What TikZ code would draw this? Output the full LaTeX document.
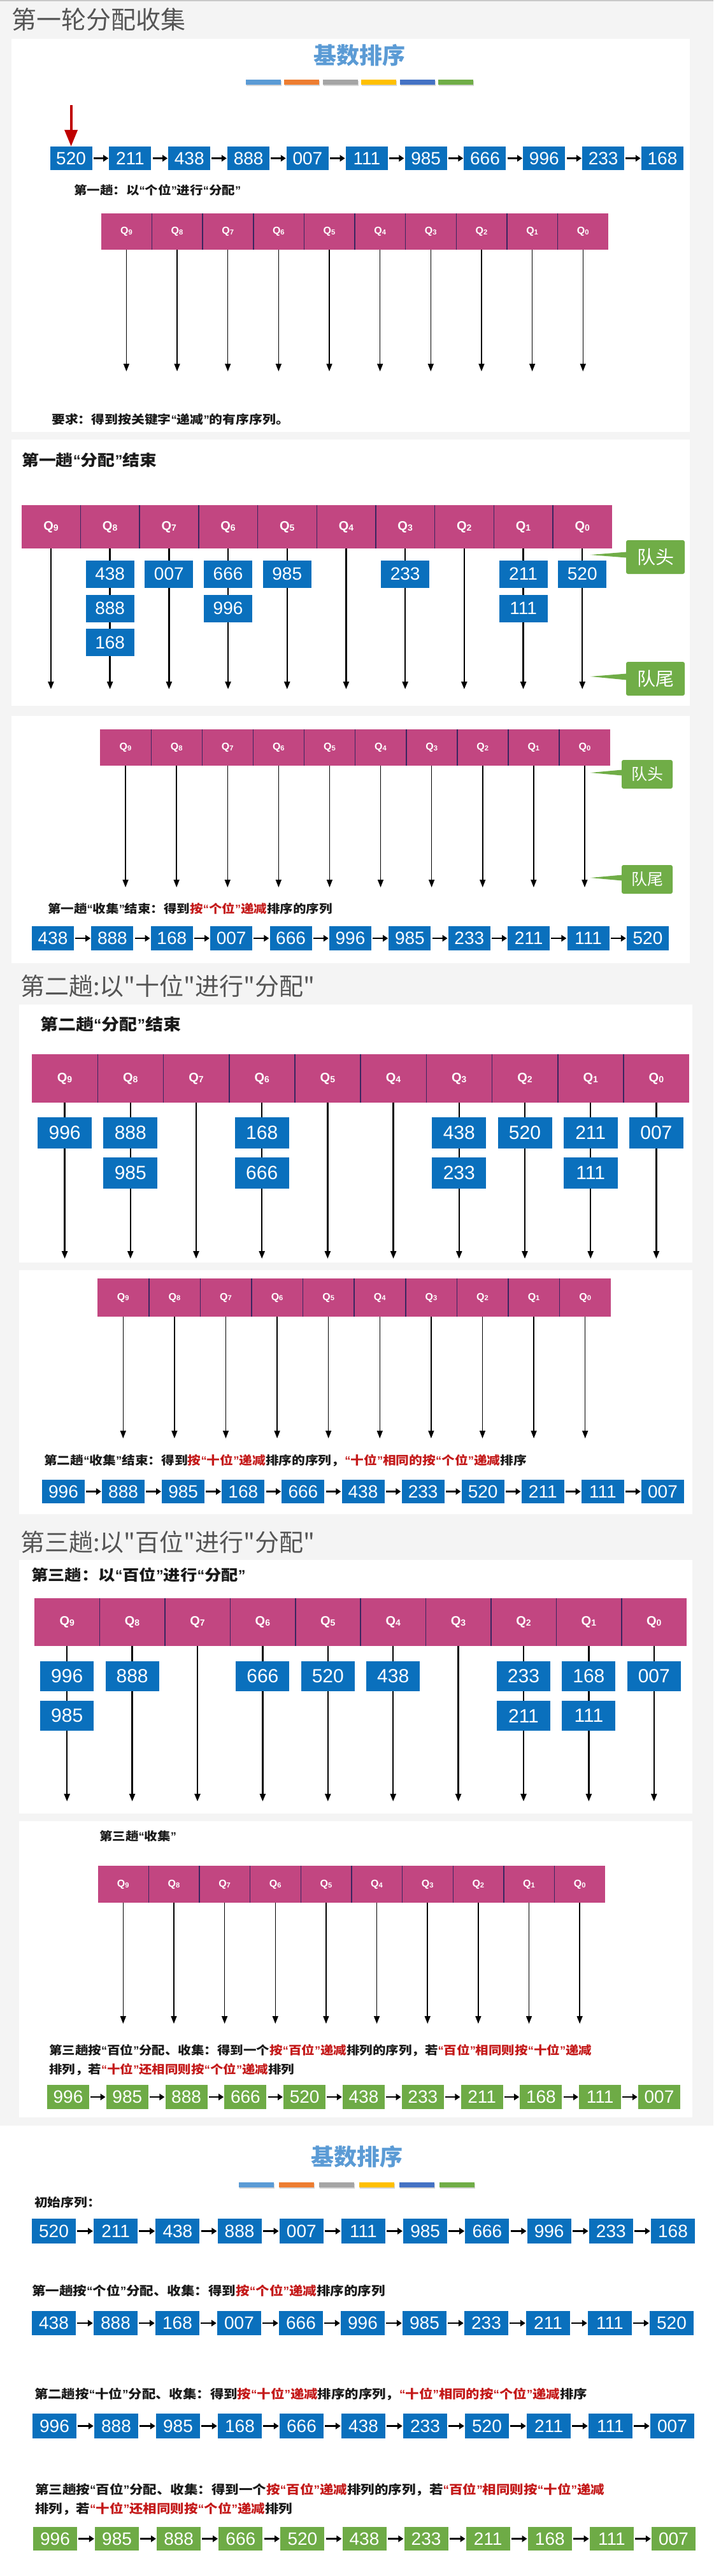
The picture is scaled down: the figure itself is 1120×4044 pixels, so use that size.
\documentclass[tikz,border=0pt]{standalone}
\usepackage{fontspec}
\usepackage{graphicx}
\usetikzlibrary{arrows.meta}
\newfontfamily\cjk{Noto Sans CJK SC}
\newfontfamily\cjkw[FakeStretch=1.12]{Noto Sans CJK SC}
\newfontfamily\numf{Liberation Sans}
\definecolor{bggray}{HTML}{F4F4F4}
\definecolor{topline}{HTML}{C8C8C8}
\definecolor{qpink}{HTML}{C24681}
\definecolor{divnavy}{HTML}{3A2560}
\definecolor{nblue}{HTML}{0A70BD}
\definecolor{ngreen}{HTML}{6EAB46}
\definecolor{cgreen}{HTML}{70AD47}
\definecolor{hred}{HTML}{C41A1A}
\definecolor{ttlblue}{HTML}{5B9BD5}
\definecolor{ttlgray}{HTML}{555555}
\definecolor{txt}{HTML}{1A1A1A}
\definecolor{cbA}{HTML}{5B9BD5}
\definecolor{cbB}{HTML}{ED7D31}
\definecolor{cbC}{HTML}{A5A5A5}
\definecolor{cbD}{HTML}{FFC000}
\definecolor{cbE}{HTML}{4472C4}
\definecolor{cbF}{HTML}{70AD47}
\newcommand\fs[1]{\fontsize{#1}{#1}\selectfont}
\newcommand\hl[1]{\textcolor{hred}{#1}}
\newcommand\qlab[1]{Q\raisebox{-0.06em}{\scalebox{0.7}{#1}}}
% queue bar: #1 prefix, #2 x0, #3 y0, #4 cell w, #5 h, #6 font size, #7 arrow end y, #8 arrow line width
\newcommand\qbar[8]{%
  \foreach \i in {0,...,9}{%
    \pgfmathtruncatemacro\dd{9-\i}%
    \node[qcell, minimum width=#4pt, minimum height=#5pt, font=\numf\bfseries\fs{#6}] (#1\dd) at ({#2+(\i+0.5)*#4},{#3+#5/2}) {\qlab{\dd}};
    \coordinate (#1e\dd) at (#1\dd.south |- 0,#7);
    \draw[varr, line width=#8pt] (#1\dd.south) -- (#1e\dd);
  }%
  \foreach \i in {0,...,8}{%
    \pgfmathtruncatemacro\dd{9-\i}%
    \draw[divline] (#1\dd.north east) -- (#1\dd.south east);
  }%
}
% row of boxes: #1 prefix, #2 x left, #3 pitch, #4 y centre, #5 w, #6 h, #7 style, #8 list
\newcommand\numrow[8]{%
  \foreach \v [count=\k] in {#8}{%
    \node[#7, minimum width=#5pt, minimum height=#6pt] (#1\k) at ({#2+#5/2+(\k-1)*#3},#4) {\v};
    \ifnum\k>1
      \pgfmathtruncatemacro\km{\k-1}%
      \draw[harr] (#1\km.east) -- (#1\k.west);
    \fi
  }%
}
\newcommand\colorbars[3]{% #1 x0, #2 pitch, #3 y
  \foreach \c [count=\k] in {cbA,cbB,cbC,cbD,cbE,cbF}{%
    \fill[black!16] ({#1+(\k-1)*#2+1},{#3+2}) rectangle ++(55,8);
    \fill[\c] ({#1+(\k-1)*#2},#3) rectangle ++(55,8);
  }%
}
% narrow (proportional) curly quotes
\catcode`“=\active \def“{{\numf\symbol{"201C}}}
\catcode`”=\active \def”{{\numf\symbol{"201D}}}
\begin{document}
\begin{tikzpicture}[x=1pt,y=-1pt,
  qcell/.style={rectangle, fill=qpink, text=white, inner sep=0pt},
  divline/.style={draw=divnavy, line width=1.5pt},
  varr/.style={-{Triangle[width=9pt,length=12pt]}, black},
  harr/.style={-{Triangle[width=10pt,length=8pt]}, line width=2.6pt, black, shorten <=2pt, shorten >=1pt},
  nbox/.style={rectangle, fill=nblue, text=white, inner sep=0pt, font=\numf\fs{28}},
  gbox/.style={nbox, fill=ngreen},
  cboxA/.style={nbox, minimum width=76pt, minimum height=43pt},
  cboxB/.style={nbox, minimum width=85pt, minimum height=49pt, font=\numf\fs{30}},
  cboxC/.style={nbox, minimum width=84pt, minimum height=47pt, font=\numf\fs{30}},
  captxt/.style={anchor=west, inner sep=0pt, text=txt, font=\cjkw\bfseries\fs{18.3}},
  capbig/.style={captxt, font=\cjkw\bfseries\fs{24}},
  capsum/.style={captxt, font=\cjkw\bfseries\fs{19.2}},
  secttl/.style={anchor=west, inner sep=0pt, text=ttlgray, font=\cjk\fs{38}},
  bigttl/.style={inner sep=0pt, text=ttlblue, font=\cjk\bfseries\fs{36}},
  callbox/.style={rectangle, fill=cgreen, rounded corners=3pt, text=white, inner sep=0pt, font=\cjk\fs{29}},
  panelbg/.style={fill=white}
]
\path[use as bounding box] (0,0) rectangle (1120,4044);
\fill[bggray] (0,0) rectangle (1120,3337);
\fill[white] (0,3337) rectangle (1120,4044);
\fill[topline] (0,0) rectangle (1120,2);

% ---------------- Section 1 ----------------
\node[secttl, font=\cjk\fs{39}] (sec1) at (18,31) {第一轮分配收集};
\fill[panelbg] (18,61) rectangle (1083,678);
\node[bigttl] (ttl1) at (564,87) {基数排序};
\colorbars{386}{60.4}{125}
\numrow{ra}{78.6}{92.84}{248.5}{66}{37}{nbox}{520,211,438,888,007,111,985,666,996,233,168}
\coordinate (redstart) at (ra1.north |- 0,165);
\draw[-{Triangle[width=20pt,length=26pt]}, line width=4pt, draw=red!75!black, fill=red!75!black] (redstart) -- (ra1.north);
\node[captxt] (c1a) at (116,298.5) {第一趟：以“个位”进行“分配”};
\qbar{p}{158.6}{335}{79.65}{57}{16}{583}{1.5}
\node[captxt, font=\cjkw\bfseries\fs{18.6}] (c1b) at (81,658.5) {要求：得到按关键字“递减”的有序序列。};

\fill[panelbg] (18,690) rectangle (1083,1108);
\node[capbig] (c2a) at (34,722.5) {第一趟“分配”结束};
\qbar{a}{33.6}{793}{92.7}{68}{20}{1082}{2.4}
\node[cboxA] (a8r1) at (a8.south |- 0,901) {438};
\node[cboxA] (a8r2) at (a8.south |- 0,955) {888};
\node[cboxA] (a8r3) at (a8.south |- 0,1008.5) {168};
\node[cboxA] (a7r1) at (a7.south |- 0,901) {007};
\node[cboxA] (a6r1) at (a6.south |- 0,901) {666};
\node[cboxA] (a6r2) at (a6.south |- 0,955) {996};
\node[cboxA] (a5r1) at (a5.south |- 0,901) {985};
\node[cboxA] (a3r1) at (a3.south |- 0,901) {233};
\node[cboxA] (a1r1) at (a1.south |- 0,901) {211};
\node[cboxA] (a1r2) at (a1.south |- 0,955) {111};
\node[cboxA] (a0r1) at (a0.south |- 0,901) {520};
\node[callbox, minimum width=92pt, minimum height=53pt] (hd1) at (1029,874.5) {队头};
\coordinate (hd1t) at (927,871);
\fill[cgreen] ([xshift=1pt,yshift=8pt]hd1.west) -- (hd1t) -- ([xshift=1pt,yshift=-1pt]hd1.west) -- cycle;
\node[callbox, minimum width=92pt, minimum height=53pt] (tl1) at (1029,1065.5) {队尾};
\coordinate (tl1t) at (927,1062);
\fill[cgreen] ([xshift=1pt,yshift=8pt]tl1.west) -- (tl1t) -- ([xshift=1pt,yshift=-2pt]tl1.west) -- cycle;

\fill[panelbg] (18,1124) rectangle (1083,1512);
\qbar{b}{157}{1145}{80.1}{57}{16}{1393}{1.5}
\node[callbox, minimum width=80pt, minimum height=45pt, font=\cjk\fs{25}] (hd2) at (1016,1215.5) {队头};
\coordinate (hd2t) at (927,1213);
\fill[cgreen] ([xshift=1pt,yshift=7pt]hd2.west) -- (hd2t) -- ([xshift=1pt,yshift=-2pt]hd2.west) -- cycle;
\node[callbox, minimum width=80pt, minimum height=45pt, font=\cjk\fs{25}] (tl2) at (1016,1380.5) {队尾};
\coordinate (tl2t) at (927,1378);
\fill[cgreen] ([xshift=1pt,yshift=7pt]tl2.west) -- (tl2t) -- ([xshift=1pt,yshift=-2pt]tl2.west) -- cycle;
\node[captxt] (c3a) at (75,1426.5) {第一趟“收集”结束：得到\hl{按“个位”递减}排序的序列};
\numrow{rb}{50}{93.4}{1473}{66}{38}{nbox}{438,888,168,007,666,996,985,233,211,111,520}

% ---------------- Section 2 ----------------
\node[secttl] (sec2) at (32,1548.5) {第二趟:以"十位"进行"分配"};
\fill[panelbg] (30,1577) rectangle (1087,1982);
\node[capbig, font=\cjkw\bfseries\fs{25}] (c4a) at (63,1607.5) {第二趟“分配”结束};
\qbar{c}{50}{1655}{103.2}{76}{20}{1976}{2.4}
\node[cboxB] (c9r1) at (c9.south |- 0,1778.5) {996};
\node[cboxB] (c8r1) at (c8.south |- 0,1778.5) {888};
\node[cboxB] (c8r2) at (c8.south |- 0,1841) {985};
\node[cboxB] (c6r1) at (c6.south |- 0,1778.5) {168};
\node[cboxB] (c6r2) at (c6.south |- 0,1841) {666};
\node[cboxB] (c3r1) at (c3.south |- 0,1778.5) {438};
\node[cboxB] (c3r2) at (c3.south |- 0,1841) {233};
\node[cboxB] (c2r1) at (c2.south |- 0,1778.5) {520};
\node[cboxB] (c1r1) at (c1.south |- 0,1778.5) {211};
\node[cboxB] (c1r2) at (c1.south |- 0,1841) {111};
\node[cboxB] (c0r1) at (c0.south |- 0,1778.5) {007};

\fill[panelbg] (30,1994) rectangle (1087,2377);
\qbar{d}{153}{2007}{80.6}{60}{16}{2258}{1.5}
\node[captxt, font=\cjkw\bfseries\fs{18.5}] (c5a) at (69,2292.5) {第二趟“收集”结束：得到\hl{按“十位”递减}排序的序列，\hl{“十位”相同的按“个位”递减}排序};
\numrow{rc}{66}{94.1}{2341.5}{67}{37}{nbox}{996,888,985,168,666,438,233,520,211,111,007}

% ---------------- Section 3 ----------------
\node[secttl] (sec3) at (32,2421.5) {第三趟:以"百位"进行"分配"};
\fill[panelbg] (30,2449) rectangle (1087,2847);
\node[capbig, font=\cjkw\bfseries\fs{23.5}] (c6a) at (49,2472.5) {第三趟：以“百位”进行“分配”};
\qbar{e}{54}{2509}{102.4}{75}{20}{2828}{2.4}
\node[cboxC] (e9r1) at (e9.south |- 0,2631.5) {996};
\node[cboxC] (e9r2) at (e9.south |- 0,2693.5) {985};
\node[cboxC] (e8r1) at (e8.south |- 0,2631.5) {888};
\node[cboxC] (e6r1) at (e6.south |- 0,2631.5) {666};
\node[cboxC] (e5r1) at (e5.south |- 0,2631.5) {520};
\node[cboxC] (e4r1) at (e4.south |- 0,2631.5) {438};
\node[cboxC] (e2r1) at (e2.south |- 0,2631.5) {233};
\node[cboxC] (e2r2) at (e2.south |- 0,2693.5) {211};
\node[cboxC] (e1r1) at (e1.south |- 0,2631.5) {168};
\node[cboxC] (e1r2) at (e1.south |- 0,2693.5) {111};
\node[cboxC] (e0r1) at (e0.south |- 0,2631.5) {007};

\fill[panelbg] (30,2859) rectangle (1087,3324);
\node[captxt] (c7a) at (156,2882.5) {第三趟“收集”};
\qbar{f}{153.5}{2929}{79.65}{58}{16}{3177}{1.5}
\node[captxt] (c7b) at (77,3219) {第三趟按“百位”分配、收集：得到一个\hl{按“百位”递减}排列的序列，若\hl{“百位”相同则按“十位”递减}};
\node[captxt] (c7c) at (77,3248.5) {排列，若\hl{“十位”还相同则按“个位”递减}排列};
\numrow{rd}{74}{92.8}{3292}{66}{38}{gbox}{996,985,888,666,520,438,233,211,168,111,007}

% ---------------- Summary ----------------
\node[bigttl] (ttl2) at (560,3386) {基数排序};
\colorbars{375}{63}{3426}
\node[capsum, font=\cjkw\bfseries\fs{18.5}] (s1) at (54,3457.5) {初始序列：};
\numrow{sa}{50}{97.2}{3502.5}{69}{39}{nbox}{520,211,438,888,007,111,985,666,996,233,168}
\node[capsum] (s2) at (50,3596) {第一趟按“个位”分配、收集：得到\hl{按“个位”递减}排序的序列};
\numrow{sb}{50}{97}{3647}{69}{38}{nbox}{438,888,168,007,666,996,985,233,211,111,520}
\node[capsum, font=\cjkw\bfseries\fs{19.1}] (s3) at (54,3759) {第二趟按“十位”分配、收集：得到\hl{按“十位”递减}排序的序列，\hl{“十位”相同的按“个位”递减}排序};
\numrow{sc}{51}{97}{3808.5}{69}{39}{nbox}{996,888,985,168,666,438,233,520,211,111,007}
\node[capsum] (s4) at (55,3908.5) {第三趟按“百位”分配、收集：得到一个\hl{按“百位”递减}排列的序列，若\hl{“百位”相同则按“十位”递减}};
\node[capsum] (s5) at (55,3939) {排列，若\hl{“十位”还相同则按“个位”递减}排列};
\numrow{sd}{52}{97.1}{3985.5}{69}{37}{gbox}{996,985,888,666,520,438,233,211,168,111,007}
\end{tikzpicture}
\end{document}
